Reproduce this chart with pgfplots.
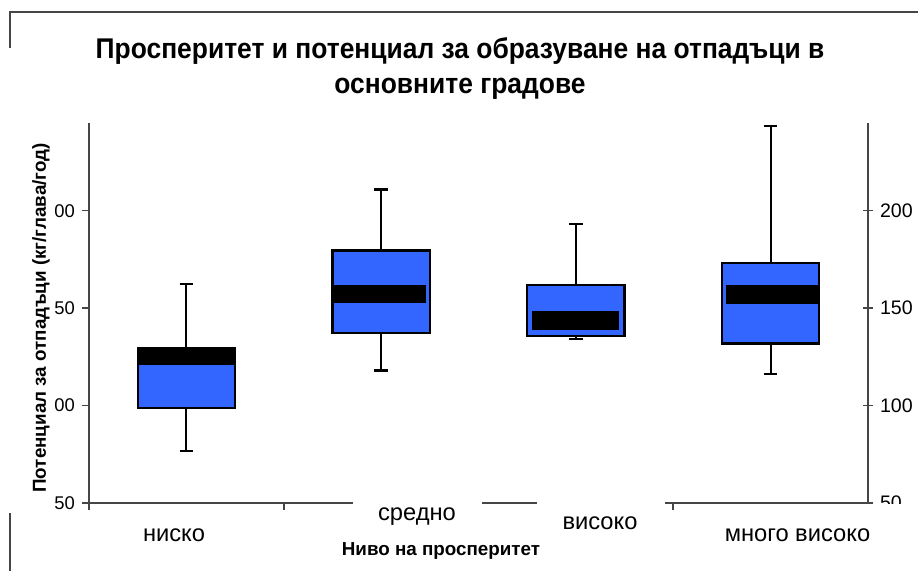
\documentclass[border=0pt]{standalone}
\usepackage{pgfplots}
\pgfplotsset{compat=1.18}
\usepgfplotslibrary{statistics}
\usepackage{fontspec}
\setmainfont{Liberation Sans}
\definecolor{boxblue}{RGB}{51,102,255}
\definecolor{axgray}{RGB}{70,70,70}
\begin{document}
\begin{tikzpicture}[x=1pt,y=1pt]
\useasboundingbox (0,0) rectangle (459,285.5);
% frame remnants
\draw[axgray, line width=0.6pt] (4.5,279.5) -- (459,279.5);
\draw[axgray, line width=0.6pt] (5,279.5) -- (5,261.5);
\draw[axgray, line width=0.6pt] (5,29) -- (5,0);
% title
\node[anchor=base, font=\bfseries\fontsize{13.2}{14}\selectfont, yscale=1.08] at (230,256) {Просперитет и потенциал за образуване на отпадъци в};
\node[anchor=base, font=\bfseries\fontsize{13.2}{14}\selectfont, yscale=1.08] at (230,238.5) {основните градове};
% y label
\node[rotate=90, font=\bfseries\fontsize{9.4}{10}\selectfont] at (20.5,126.5) {Потенциал за отпадъци (кг/глава/год)};

\begin{axis}[
  at={(44.5pt,34pt)}, anchor=south west,
  scale only axis, width=389.5pt, height=190pt,
  xmin=0, xmax=4, ymin=50, ymax=245,
  axis x line*=bottom, axis y line*=left,
  axis line style={axgray, line width=0.8pt},
  xtick={0,1,2,3,4}, xticklabels={},
  ytick={50,100,150,200}, yticklabels={50,00,50,00},
  tick style={axgray, line width=0.8pt},
  tick align=outside, major tick length=3.5pt,
  yticklabel style={font=\fontsize{9.2}{10}\selectfont, text=black},
  /pgf/number format/assume math mode=true,
  clip=false,
  boxplot/draw direction=y,
  boxplot/every median/.style={draw=none},
  boxplot/every whisker/.style={line width=1.1pt},
]
\addplot[boxplot prepared={lower whisker=76.5, lower quartile=98.8, median=125.2, upper quartile=129.6, upper whisker=162.2, draw position=0.5, box extend=0.5, whisker extend=0.07}, draw=black, fill=boxblue, line width=1.1pt, solid] coordinates {};
\addplot[boxplot prepared={lower whisker=118.0, lower quartile=137.4, median=157.3, upper quartile=179.6, upper whisker=210.9, draw position=1.5, box extend=0.5, whisker extend=0.07}, draw=black, fill=boxblue, line width=1.1pt, solid] coordinates {};
\addplot[boxplot prepared={lower whisker=134.0, lower quartile=135.6, median=143.5, upper quartile=161.7, upper whisker=193.1, draw position=2.5, box extend=0.5, whisker extend=0.07}, draw=black, fill=boxblue, line width=1.1pt, solid] coordinates {};
\addplot[boxplot prepared={lower whisker=116.1, lower quartile=131.8, median=157.2, upper quartile=173.3, upper whisker=243.3, draw position=3.5, box extend=0.5, whisker extend=0.07}, draw=black, fill=boxblue, line width=1.1pt, solid] coordinates {};
% median bands
\addplot[fill=black, draw=none] coordinates {(0.255,120.7) (0.745,120.7) (0.745,129.6) (0.255,129.6)} -- cycle;
\addplot[fill=black, draw=none] coordinates {(1.26,152.6) (1.73,152.6) (1.73,162.0) (1.26,162.0)} -- cycle;
\addplot[fill=black, draw=none] coordinates {(2.275,138.6) (2.72,138.6) (2.72,148.4) (2.275,148.4)} -- cycle;
\addplot[fill=black, draw=none] coordinates {(3.27,152.3) (3.745,152.3) (3.745,162.0) (3.27,162.0)} -- cycle;
\end{axis}

\begin{axis}[
  at={(44.5pt,34pt)}, anchor=south west,
  scale only axis, width=389.5pt, height=190pt,
  xmin=0, xmax=4, ymin=50, ymax=245,
  axis x line=none, axis y line*=right,
  axis line style={axgray, line width=0.8pt},
  ytick={50,100,150,200},
  tick style={axgray, line width=0.8pt},
  tick align=center, major tick length=5pt,
  yticklabel style={font=\fontsize{9.8}{10}\selectfont, text=black},
  /pgf/number format/assume math mode=true,
]
\end{axis}

% white patches
\fill[white] (176.5,22) rectangle (241,37.5);
\fill[white] (268.5,15.5) rectangle (332.5,37);
\fill[white] (339,5) rectangle (459,33.3);
% category labels
\node[anchor=base, font=\fontsize{11.85}{13}\selectfont] at (87,14.5) {ниско};
\node[anchor=base, font=\fontsize{11.85}{13}\selectfont] at (208.5,25.2) {средно};
\node[anchor=base, font=\fontsize{11.85}{13}\selectfont] at (300,20.5) {високо};
\node[anchor=base, font=\fontsize{11.85}{13}\selectfont] at (398.75,14.5) {много високо};
\node[anchor=base, font=\bfseries\fontsize{9.4}{10}\selectfont] at (220.5,7.5) {Ниво на просперитет};
\end{tikzpicture}
\end{document}
